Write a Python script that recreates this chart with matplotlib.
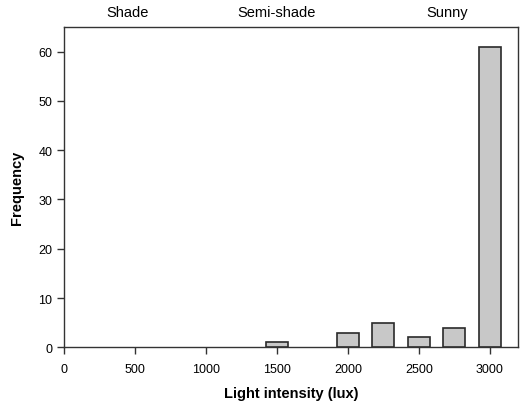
import numpy as np
import matplotlib.pyplot as plt

plt.rcParams['font.family'] = ['Liberation Sans', 'DejaVu Sans']

# histogram bins (lux) and counts
bin_centers = [1500, 2000, 2250, 2500, 2750, 3000]
counts = [1, 3, 5, 2, 4, 61]
zone_labels = ['Shade', 'Semi-shade', 'Sunny']
zone_pos = [450, 1500, 2700]
xticks = [0, 500, 1000, 1500, 2000, 2500, 3000]
yticks = [0, 10, 20, 30, 40, 50, 60]

fig = plt.figure(figsize=(5.28, 4.02), dpi=100)
ax = fig.add_axes([0.1212, 0.1336, 0.9816 - 0.1212, 0.9303 - 0.1336])

ax.bar(bin_centers, counts, width=155, color='#c8c8c8', edgecolor='#2a2a2a', linewidth=1.2, zorder=3)

ax.set_xlim(0, 3200)
ax.set_ylim(0, 65)
ax.set_xticks(xticks)
ax.set_yticks(yticks)
ax.tick_params(direction='out', length=5, width=1, labelsize=9, color='#333333')
ax.tick_params(axis='x', pad=6)

for s in ax.spines.values():
    s.set_linewidth(1)
    s.set_color('#333333')

for lab, x in zip(zone_labels, zone_pos):
    ax.text(x, 1.025, lab, transform=ax.get_xaxis_transform(), ha='center', va='bottom', fontsize=10.5)

ax.set_xlabel('Light intensity (lux)', fontsize=10.5, fontweight='bold', labelpad=8)
ax.set_ylabel('Frequency', fontsize=10.5, fontweight='bold', labelpad=10)

fig.savefig('out.png', dpi=100)
